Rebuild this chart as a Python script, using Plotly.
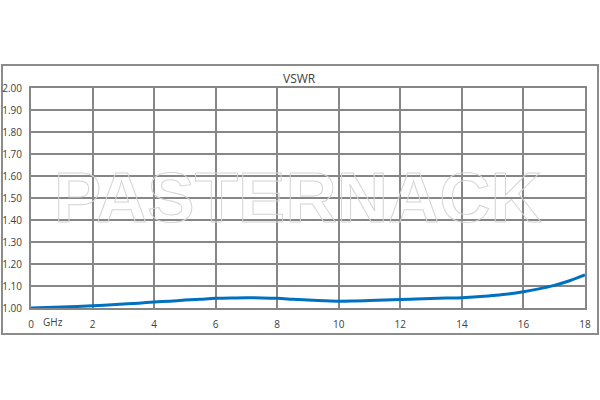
import plotly.graph_objects as go

freq_ghz = [0, 0.5, 1, 1.5, 2, 2.5, 3, 3.5, 4, 4.5, 5, 5.5, 6, 6.5, 7, 7.5, 8, 8.5, 9,
            9.5, 10, 10.5, 11, 11.5, 12, 12.5, 13, 13.5, 14, 14.5, 15, 15.5, 16, 16.5,
            17, 17.5, 18]
vswr = [1.000, 1.002, 1.005, 1.007, 1.010, 1.014, 1.018, 1.022, 1.027, 1.031, 1.036,
        1.040, 1.044, 1.046, 1.047, 1.046, 1.044, 1.040, 1.036, 1.033, 1.031, 1.032,
        1.034, 1.036, 1.039, 1.041, 1.043, 1.045, 1.047, 1.051, 1.057, 1.064, 1.074,
        1.087, 1.103, 1.124, 1.150]

x_ticks = list(range(0, 19, 2))
x_tick_labels = [str(v) for v in x_ticks]
y_ticks = [round(1.0 + 0.1 * i, 2) for i in range(11)]
y_tick_labels = [f"{v:.2f}" for v in y_ticks]

title_text = "VSWR"
unit_text = "GHz"
watermark = "PASTERNACK"

grid_color = "#868686"
text_color = "#404040"
font_family = "Open Sans, Liberation Sans, sans-serif"

fig = go.Figure()
fig.add_trace(go.Scatter(
    x=freq_ghz, y=vswr, mode="lines",
    line=dict(color="#0070C0", width=3, shape="spline"),
    hoverinfo="skip", showlegend=False,
))

fig.update_layout(
    width=600, height=400,
    margin=dict(l=31, r=15, t=88, b=92, autoexpand=False),
    paper_bgcolor="white", plot_bgcolor="white",
    showlegend=False,
    font=dict(family=font_family, size=10, color=text_color),
)

fig.update_xaxes(
    range=[0, 18], tickmode="array", tickvals=x_ticks, ticktext=x_tick_labels,
    showgrid=True, gridcolor=grid_color, gridwidth=2,
    showline=True, linecolor=grid_color, linewidth=2, mirror=True,
    zeroline=False, ticks="outside", ticklen=6, tickcolor="rgba(0,0,0,0)",
    tickfont=dict(size=10, color=text_color, family=font_family),
    fixedrange=True, automargin=False,
)
fig.update_yaxes(
    range=[1.0, 2.0], tickmode="array", tickvals=y_ticks, ticktext=y_tick_labels,
    showgrid=True, gridcolor=grid_color, gridwidth=2,
    showline=True, linecolor=grid_color, linewidth=2, mirror=True,
    zeroline=False, ticks="outside", ticklen=5, tickcolor="rgba(0,0,0,0)",
    tickfont=dict(size=10, color=text_color, family=font_family),
    fixedrange=True, automargin=False,
)

# outer frame
fig.add_shape(type="rect", xref="paper", yref="paper",
              x0=(2 - 31) / 554, x1=(598 - 31) / 554,
              y0=(308 - 334) / 220, y1=(308 - 65) / 220,
              line=dict(color="#8c8c8c", width=2), fillcolor="rgba(0,0,0,0)",
              layer="below")

# title
fig.add_annotation(text=title_text, xref="paper", yref="paper",
                   x=(299 - 31) / 554, y=(308 - 78) / 220,
                   showarrow=False, xanchor="center", yanchor="middle",
                   font=dict(size=12, color=text_color, family=font_family))

# unit label
fig.add_annotation(text=unit_text, xref="paper", yref="paper",
                   x=(53 - 31) / 554, y=(308 - 322) / 220,
                   showarrow=False, xanchor="center", yanchor="middle",
                   font=dict(size=10, color=text_color, family=font_family))

# watermark (outlined text)
fig.add_annotation(text=watermark, xref="paper", yref="paper",
                   x=(298 - 31) / 554, y=(308 - 197) / 220,
                   showarrow=False, xanchor="center", yanchor="middle",
                   font=dict(size=71, color="rgba(0,0,0,0.05)",
                             family="Liberation Sans, Arial, sans-serif",
                             weight="bold"))

post = """
document.body.style.margin = '0';
document.querySelectorAll('.annotation-text').forEach(function(el) {
  if (el.textContent === 'PASTERNACK') {
    el.style.fill = 'none';
    el.style.stroke = '#d4d4d4';
    el.style.strokeWidth = '1px';
  }
});
"""

fig.write_html("out.html", post_script=post,
               config={"displayModeBar": False, "staticPlot": True})
